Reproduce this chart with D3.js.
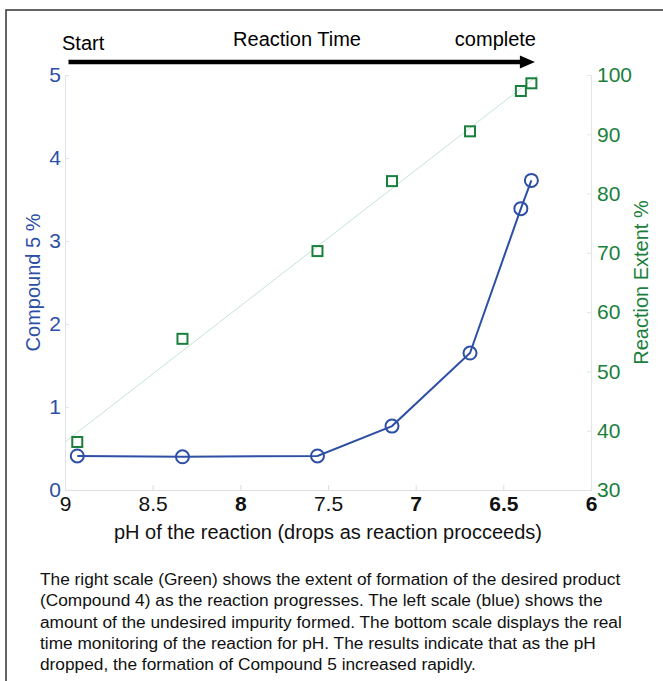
<!DOCTYPE html>
<html>
<head>
<meta charset="utf-8">
<script src="https://cdn.jsdelivr.net/npm/d3@7"></script>
<style>
  body { margin: 0; background: #fff; }
  text { font-family: "Liberation Sans", Arial, sans-serif; }
  .tick text { font-family: "Liberation Sans Narrow", "Liberation Sans", Arial, sans-serif; }
</style>
</head>
<body>
<div id="vis"></div>
<script>
// values
const phValues = [8.93, 8.33, 7.56, 7.135, 6.69, 6.40, 6.34];
const compound5 = [0.41, 0.40, 0.41, 0.77, 1.65, 3.39, 3.73];
const reactionExtent = [38.1, 55.5, 70.3, 82.1, 90.5, 97.3, 98.6];
const trendPh = [9, 6.30];
const trendExtent = [38.1, 100];

const xTicks = [9, 8.5, 8, 7.5, 7, 6.5, 6];
const xBoldTicks = [8, 7, 6.5, 6];
const leftTicks = [0, 1, 2, 3, 4, 5];
const rightTicks = [30, 40, 50, 60, 70, 80, 90, 100];

const captionLines = [
  "The right scale (Green) shows the extent of formation of the desired product",
  "(Compound 4) as the reaction progresses. The left scale (blue) shows the",
  "amount of the undesired impurity formed. The bottom scale displays the real",
  "time monitoring of the reaction for pH. The results indicate that as the pH",
  "dropped, the formation of Compound 5 increased rapidly."
];

const blue = "#2e4fa6";
const green = "#1a7f3c";

const width = 663, height = 681;
const margin = {top: 75, right: 72, bottom: 191, left: 65};

const svg = d3.select("#vis")
  .append("svg")
    .attr("width", width)
    .attr("height", height);

svg.append("rect")
  .attr("width", width).attr("height", height)
  .attr("fill", "#fff");

// outer frame (runs off the right and bottom edges)
svg.append("rect")
  .attr("x", 6).attr("y", 10)
  .attr("width", width + 20).attr("height", height + 20)
  .attr("fill", "none")
  .attr("stroke", "#333")
  .attr("stroke-width", 1.5);

const x = d3.scaleLinear()
  .domain([9, 6])
  .range([margin.left, width - margin.right]);

const yLeft = d3.scaleLinear()
  .domain([0, 5])
  .range([height - margin.bottom, margin.top]);

const yRight = d3.scaleLinear()
  .domain([30, 100])
  .range([height - margin.bottom, margin.top]);

// axes
const xAxis = svg.append("g")
  .attr("transform", `translate(0,${height - margin.bottom})`)
  .call(d3.axisBottom(x).tickValues(xTicks).tickFormat(d3.format("")).tickSize(-5).tickPadding(6));
xAxis.select(".domain").attr("stroke", "#dcdcdc");
xAxis.selectAll(".tick line").attr("stroke", "#dcdcdc");
xAxis.selectAll(".tick text")
  .attr("font-size", 21)
  .attr("fill", "#111")
  .attr("font-weight", d => xBoldTicks.includes(d) ? "bold" : "normal");

const leftAxis = svg.append("g")
  .attr("transform", `translate(${margin.left},0)`)
  .call(d3.axisLeft(yLeft).tickValues(leftTicks).tickFormat(d3.format("d")).tickSize(-4).tickPadding(4));
leftAxis.select(".domain").attr("stroke", "#dfe4ef");
leftAxis.selectAll(".tick line").attr("stroke", "#dfe4ef");
leftAxis.selectAll(".tick text").attr("font-size", 21).attr("fill", blue);

const rightAxis = svg.append("g")
  .attr("transform", `translate(${width - margin.right},0)`)
  .call(d3.axisRight(yRight).tickValues(rightTicks).tickSize(-4).tickPadding(6));
rightAxis.select(".domain").attr("stroke", "#dfe8e3");
rightAxis.selectAll(".tick line").attr("stroke", "#dfe8e3");
rightAxis.selectAll(".tick text").attr("font-size", 21).attr("fill", green);

// axis titles
svg.append("text")
  .attr("transform", `translate(40,${(margin.top + height - margin.bottom) / 2}) rotate(-90)`)
  .attr("text-anchor", "middle")
  .attr("font-size", 20)
  .attr("fill", blue)
  .text("Compound 5 %");

svg.append("text")
  .attr("transform", `translate(648,${(margin.top + height - margin.bottom) / 2}) rotate(-90)`)
  .attr("text-anchor", "middle")
  .attr("font-size", 20)
  .attr("fill", green)
  .text("Reaction Extent %");

svg.append("text")
  .attr("x", (margin.left + width - margin.right) / 2)
  .attr("y", 539)
  .attr("text-anchor", "middle")
  .attr("font-size", 20)
  .attr("fill", "#111")
  .text("pH of the reaction (drops as reaction procceeds)");

// reaction time arrow (shaft + head)
const arrowY = 62;
const arrowStart = x(8.98), arrowTip = x(6.32), headLen = 15, headHalf = 6.5;
svg.append("line")
  .attr("x1", arrowStart).attr("x2", arrowTip - headLen + 1)
  .attr("y1", arrowY).attr("y2", arrowY)
  .attr("stroke", "#000")
  .attr("stroke-width", 4.5);
svg.append("path")
  .attr("d", `M${arrowTip - headLen},${arrowY - headHalf}L${arrowTip},${arrowY}L${arrowTip - headLen},${arrowY + headHalf}Z`)
  .attr("fill", "#000");

svg.append("text").attr("x", 62).attr("y", 50).attr("font-size", 20).text("Start");
svg.append("text").attr("x", 297).attr("y", 46).attr("text-anchor", "middle").attr("font-size", 20).text("Reaction Time");
svg.append("text").attr("x", 536).attr("y", 46).attr("text-anchor", "end").attr("font-size", 20).text("complete");

// green trend line
const trend = trendPh.map((p, i) => ({ph: p, v: trendExtent[i]}));
svg.append("path")
  .datum(trend)
  .attr("fill", "none")
  .attr("stroke", "#c5e4d2")
  .attr("stroke-width", 1)
  .attr("d", d3.line().x(d => x(d.ph)).y(d => yRight(d.v)));

// green squares
const sq = 10;
svg.append("g")
  .selectAll("rect")
  .data(phValues.map((p, i) => ({ph: p, v: reactionExtent[i]})))
  .join("rect")
    .attr("x", d => x(d.ph) - sq / 2)
    .attr("y", d => yRight(d.v) - sq / 2)
    .attr("width", sq).attr("height", sq)
    .attr("fill", "none")
    .attr("stroke", green)
    .attr("stroke-width", 2);

// blue line + circles
const comp = phValues.map((p, i) => ({ph: p, v: compound5[i]}));
svg.append("path")
  .datum(comp)
  .attr("fill", "none")
  .attr("stroke", blue)
  .attr("stroke-width", 2)
  .attr("d", d3.line().x(d => x(d.ph)).y(d => yLeft(d.v)));

svg.append("g")
  .selectAll("circle")
  .data(comp)
  .join("circle")
    .attr("cx", d => x(d.ph))
    .attr("cy", d => yLeft(d.v))
    .attr("r", 6.5)
    .attr("fill", "none")
    .attr("stroke", blue)
    .attr("stroke-width", 2);

// caption
svg.append("g")
  .selectAll("text")
  .data(captionLines)
  .join("text")
    .attr("x", 40)
    .attr("y", (d, i) => 585 + i * 21.25)
    .attr("font-size", 17.3)
    .attr("fill", "#111")
    .text(d => d);
</script>
</body>
</html>
